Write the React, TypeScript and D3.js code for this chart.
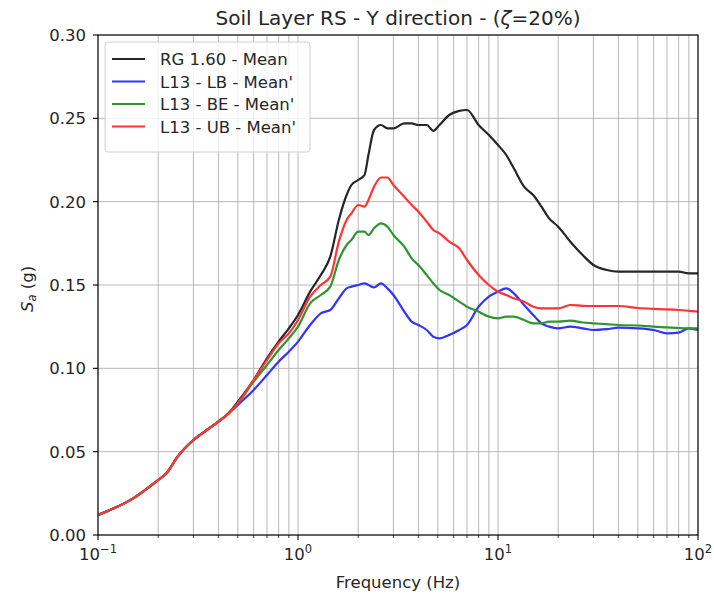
import React, { useRef, useEffect } from 'react';
import * as d3 from 'd3';

const freqs = [
  0.1, 0.12, 0.15, 0.2, 0.22, 0.25, 0.3, 0.35, 0.4, 0.45,
  0.5, 0.6, 0.7, 0.8, 0.9, 1.0, 1.15, 1.3, 1.45, 1.6,
  1.75, 1.85, 2.0, 2.15, 2.25, 2.4, 2.6, 2.8, 3.0, 3.4,
  3.7, 4.0, 4.4, 4.75, 5.1, 5.7, 6.4, 7.0, 8.0, 9.0,
  10, 11, 12, 13.5, 15, 16.5, 18, 20, 23, 26.5,
  30, 35, 40, 50, 60, 70, 80, 90, 100,
];

const rgMean = [
  0.012, 0.016, 0.022, 0.033, 0.037, 0.047, 0.057, 0.063, 0.068, 0.073,
  0.080, 0.093, 0.106, 0.116, 0.124, 0.132, 0.146, 0.156, 0.167, 0.189,
  0.204, 0.210, 0.213, 0.216, 0.228, 0.243, 0.246, 0.244, 0.244, 0.247,
  0.247, 0.246, 0.246, 0.2425, 0.246, 0.252, 0.2545, 0.255, 0.246, 0.240,
  0.234, 0.228, 0.220, 0.209, 0.204, 0.197, 0.190, 0.185, 0.176, 0.168,
  0.162, 0.159, 0.158, 0.158, 0.158, 0.158, 0.158, 0.157, 0.157,
];

const lbMean = [
  0.012, 0.016, 0.022, 0.033, 0.037, 0.047, 0.057, 0.063, 0.068, 0.073,
  0.078, 0.087, 0.096, 0.104, 0.110, 0.116, 0.126, 0.133, 0.135, 0.142,
  0.148, 0.149, 0.150, 0.151, 0.150, 0.1485, 0.151, 0.148, 0.144, 0.134,
  0.128, 0.126, 0.123, 0.119, 0.118, 0.120, 0.123, 0.126, 0.137, 0.143,
  0.146, 0.148, 0.145, 0.138, 0.132, 0.127, 0.125, 0.124, 0.125, 0.124,
  0.123, 0.1235, 0.1244, 0.124, 0.123, 0.121, 0.1214, 0.124, 0.123,
];

const beMean = [
  0.012, 0.016, 0.022, 0.033, 0.037, 0.047, 0.057, 0.063, 0.068, 0.073,
  0.079, 0.092, 0.102, 0.111, 0.118, 0.125, 0.139, 0.144, 0.149, 0.165,
  0.174, 0.177, 0.182, 0.182, 0.180, 0.184, 0.187, 0.185, 0.180, 0.173,
  0.166, 0.162, 0.156, 0.151, 0.147, 0.144, 0.140, 0.137, 0.134, 0.131,
  0.130, 0.131, 0.131, 0.129, 0.127, 0.127, 0.128, 0.128, 0.1286, 0.1275,
  0.127, 0.1265, 0.126, 0.1257, 0.125, 0.1246, 0.1242, 0.124, 0.124,
];

const ubMean = [
  0.012, 0.016, 0.022, 0.033, 0.037, 0.047, 0.057, 0.063, 0.068, 0.073,
  0.079, 0.093, 0.105, 0.115, 0.121, 0.129, 0.143, 0.150, 0.155, 0.176,
  0.189, 0.193, 0.198, 0.197, 0.201, 0.209, 0.2145, 0.2145, 0.210, 0.203,
  0.198, 0.194, 0.188, 0.183, 0.181, 0.176, 0.172, 0.165, 0.156, 0.150,
  0.146, 0.144, 0.142, 0.140, 0.137, 0.136, 0.136, 0.136, 0.138, 0.1375,
  0.1374, 0.1374, 0.1374, 0.1362, 0.1357, 0.1354, 0.135, 0.1345, 0.134,
];

const seriesNames = ['RG 1.60 - Mean', "L13 - LB - Mean'", "L13 - BE - Mean'", "L13 - UB - Mean'"];
const seriesColors = ['#262626', '#3333ff', '#2f962f', '#ff3333'];
const seriesValues = [rgMean, lbMean, beMean, ubMean];

const yTicks = [0, 0.05, 0.1, 0.15, 0.2, 0.25, 0.3];
const xMajor = [0.1, 1, 10, 100];
const xExponents = ['\u22121', '0', '1', '2'];

const W = 714;
const H = 598;
const FONT = 'DejaVu Sans, sans-serif';
const FS = 16.5;

export default function App() {
  const svgRef = useRef<SVGSVGElement>(null);

  useEffect(() => {
    if (!svgRef.current) return;
    const svg = d3.select(svgRef.current);
    svg.selectAll('*').remove();

    const margin = { top: 35, right: 16, bottom: 63, left: 98 };
    const x0 = margin.left, x1 = W - margin.right;
    const y0 = H - margin.bottom, y1 = margin.top;

    const xScale = d3.scaleLog().domain([0.1, 100]).range([x0, x1]);
    const yScale = d3.scaleLinear().domain([0, 0.3]).range([y0, y1]);

    svg.append('rect').attr('width', W).attr('height', H).attr('fill', '#fff');

    // grid: every log tick (major + minor) and the y ticks
    const xMinor: number[] = [];
    [0.1, 1, 10].forEach(d => { for (let k = 2; k <= 9; k++) xMinor.push(d * k); });
    const xAll = [...xMajor, ...xMinor];

    const grid = svg.append('g').attr('stroke', '#b0b0b0').attr('stroke-width', 0.9);
    xAll.forEach(v => {
      grid.append('line')
        .attr('x1', xScale(v)).attr('x2', xScale(v))
        .attr('y1', y0).attr('y2', y1);
    });
    yTicks.forEach(v => {
      grid.append('line')
        .attr('x1', x0).attr('x2', x1)
        .attr('y1', yScale(v)).attr('y2', yScale(v));
    });

    // curves
    const line = d3.line<number>()
      .x((_, i) => xScale(freqs[i]))
      .y(d => yScale(d))
      .curve(d3.curveMonotoneX);

    const clip = svg.append('defs').append('clipPath').attr('id', 'plotclip');
    clip.append('rect').attr('x', x0).attr('y', y1).attr('width', x1 - x0).attr('height', y0 - y1);

    const curves = svg.append('g').attr('clip-path', 'url(#plotclip)');
    seriesValues.forEach((vals, i) => {
      curves.append('path')
        .datum(vals)
        .attr('d', line)
        .attr('fill', 'none')
        .attr('stroke', seriesColors[i])
        .attr('stroke-width', 2.2)
        .attr('stroke-linejoin', 'round');
    });

    // frame
    svg.append('rect')
      .attr('x', x0).attr('y', y1).attr('width', x1 - x0).attr('height', y0 - y1)
      .attr('fill', 'none').attr('stroke', '#000').attr('stroke-width', 1.1);

    // y ticks
    yTicks.forEach(v => {
      svg.append('line')
        .attr('x1', x0 - 5).attr('x2', x0).attr('y1', yScale(v)).attr('y2', yScale(v))
        .attr('stroke', '#000').attr('stroke-width', 1.1);
      svg.append('text')
        .attr('x', x0 - 12).attr('y', yScale(v) + 6)
        .attr('text-anchor', 'end').attr('font-family', FONT).attr('font-size', FS)
        .attr('fill', '#262626')
        .text(v.toFixed(2));
    });

    // x ticks
    xMinor.forEach(v => {
      svg.append('line')
        .attr('x1', xScale(v)).attr('x2', xScale(v)).attr('y1', y0).attr('y2', y0 + 3)
        .attr('stroke', '#000').attr('stroke-width', 0.8);
    });
    xMajor.forEach((v, i) => {
      svg.append('line')
        .attr('x1', xScale(v)).attr('x2', xScale(v)).attr('y1', y0).attr('y2', y0 + 5)
        .attr('stroke', '#000').attr('stroke-width', 1.1);
      const t = svg.append('text')
        .attr('x', xScale(v)).attr('y', y0 + 25)
        .attr('text-anchor', 'middle').attr('font-family', FONT).attr('font-size', FS)
        .attr('fill', '#262626');
      t.append('tspan').text('10');
      t.append('tspan').attr('dy', -7).attr('font-size', 11.5).text(xExponents[i]);
    });

    // title and axis labels
    svg.append('text')
      .attr('x', (x0 + x1) / 2).attr('y', 25)
      .attr('text-anchor', 'middle').attr('font-family', FONT).attr('font-size', 20)
      .attr('fill', '#262626')
      .call(t => {
        t.append('tspan').text('Soil Layer RS - Y direction - (');
        t.append('tspan').attr('font-style', 'italic').text('\u03b6');
        t.append('tspan').text('=20%)');
      });

    svg.append('text')
      .attr('x', (x0 + x1) / 2).attr('y', H - 10)
      .attr('text-anchor', 'middle').attr('font-family', FONT).attr('font-size', FS)
      .attr('fill', '#262626')
      .text('Frequency (Hz)');

    svg.append('text')
      .attr('transform', `translate(33,${(y0 + y1) / 2 + 4}) rotate(-90)`)
      .attr('text-anchor', 'middle').attr('font-family', FONT).attr('font-size', FS)
      .attr('fill', '#262626')
      .call(t => {
        t.append('tspan').attr('font-style', 'italic').text('S');
        t.append('tspan').attr('dy', 3).attr('font-size', 11.5).attr('font-style', 'italic').text('a');
        t.append('tspan').attr('dy', -3).text(' (g)');
      });

    // legend
    const lg = svg.append('g').attr('transform', `translate(${x0 + 7},${y1 + 7})`);
    lg.append('rect')
      .attr('width', 205).attr('height', 110).attr('rx', 3)
      .attr('fill', '#fff').attr('fill-opacity', 0.8)
      .attr('stroke', '#d0d0d0').attr('stroke-width', 1);
    seriesNames.forEach((name, i) => {
      const cy = 17 + i * 22.5;
      lg.append('line')
        .attr('x1', 7).attr('x2', 40).attr('y1', cy).attr('y2', cy)
        .attr('stroke', seriesColors[i]).attr('stroke-width', 2.2);
      lg.append('text')
        .attr('x', 55).attr('y', cy + 6)
        .attr('font-family', FONT).attr('font-size', FS).attr('fill', '#262626')
        .text(name);
    });
  }, []);

  return (
    <div style={{ position: 'absolute', left: 0, top: 0 }}>
      <svg ref={svgRef} width={W} height={H} />
    </div>
  );
}
